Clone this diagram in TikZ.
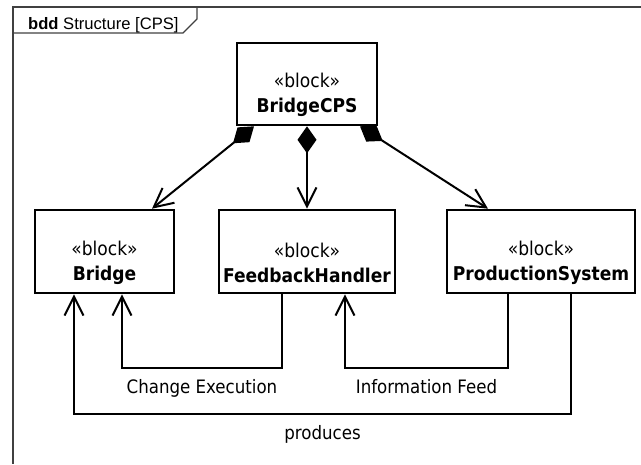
\documentclass[tikz,border=0pt]{standalone}
\usepackage{fontspec}
\setmainfont{DejaVu Sans Condensed}
\newfontfamily\titlefont{Liberation Sans}
\usetikzlibrary{arrows.meta}

\tikzset{
  block/.style={draw, rectangle, line width=2.6pt, inner sep=0pt},
  blocktext/.style={align=center, font=\fontsize{19}{25}\selectfont},
  composition/.style={line width=2pt, {Diamond[length=27pt,width=19pt]}-{Straight Barb[length=19pt,width=19pt]}},
  assoc/.style={line width=2pt, -{Straight Barb[length=19pt,width=19pt]}},
  lbl/.style={below=7pt, font=\fontsize{18.5}{22}\selectfont}
}

\begin{document}
\begin{tikzpicture}[x=1pt, y=-1pt]
\useasboundingbox (0,0) rectangle (641,464);

% frame
\draw[line width=1.4pt, black!75] (641,7) -- (13,7) -- (13,464);
\draw[line width=1.4pt, black!75] (13,33) -- (183,33) -- (197,19) -- (197,7);
\node[anchor=base west, inner sep=0pt, font=\titlefont\fontsize{16.6}{18}\selectfont] (title) at (28,29) {\textbf{bdd} Structure [CPS]};

% BridgeCPS block
\node[block, minimum width=140, minimum height=82] (cps) at (307,84) {};
\node[blocktext] (cpstext) at ([yshift=-11pt]cps.center) {«block»\\\textbf{BridgeCPS}};

% Bridge block
\node[block, minimum width=139, minimum height=83] (bridge) at (104.5,251.5) {};
\node[blocktext] (bridgetext) at ([yshift=-11pt]bridge.center) {«block»\\\textbf{Bridge}};

% FeedbackHandler block
\node[block, minimum width=176, minimum height=83] (fh) at (307,251.5) {};
\node[blocktext] (fhtext) at ([yshift=-11pt]fh.center) {«block»\\\textbf{FeedbackHandler}};

% ProductionSystem block
\node[block, minimum width=188, minimum height=83] (ps) at (541,251.5) {};
\node[blocktext] (pstext) at ([yshift=-11pt]ps.center) {«block»\\\textbf{ProductionSystem}};

% Compositions
\draw[composition] ([xshift=-53pt]cps.south) -- ([xshift=47.5pt]bridge.north);
\draw[composition] (cps.south) -- (fh.north);
\draw[composition] ([xshift=53pt]cps.south) -- ([xshift=-53pt]ps.north);

% Associations
\draw[assoc] ([xshift=-25pt]fh.south) -- ++(0,74) -| node[lbl, pos=0.25] {Change Execution} ([xshift=17.5pt]bridge.south);
\draw[assoc] ([xshift=-33pt]ps.south) -- ++(0,74) -| node[lbl, pos=0.25] {Information Feed} ([xshift=38pt]fh.south);
\draw[assoc] ([xshift=30pt]ps.south) -- ++(0,120) -| node[lbl, pos=0.25] {produces} ([xshift=-30.5pt]bridge.south);

\end{tikzpicture}
\end{document}
